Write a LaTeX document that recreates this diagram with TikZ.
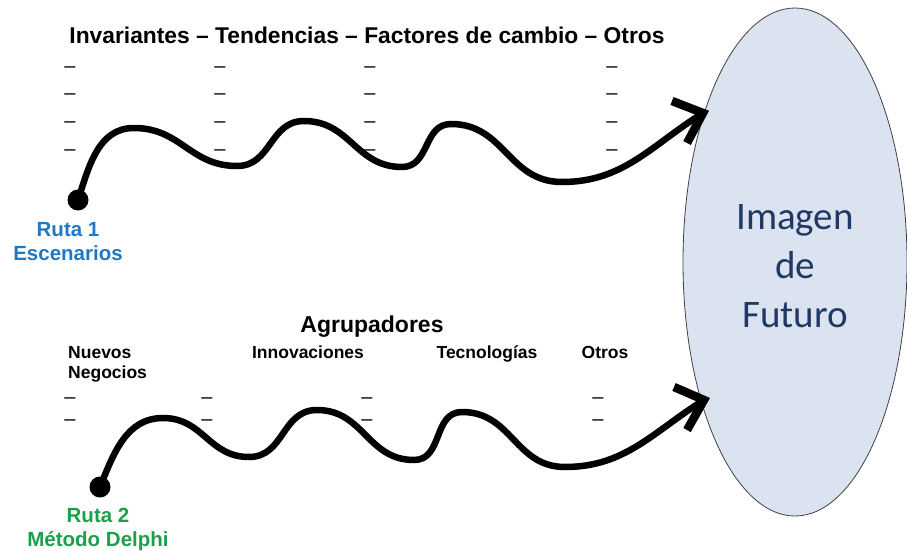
\documentclass[tikz,border=0pt]{standalone}
\usepackage{fontspec}
\setmainfont{Liberation Sans}
\newfontfamily\calfont{Carlito}
\usetikzlibrary{shapes.geometric}
\definecolor{ellfill}{HTML}{DCE3F0}
\definecolor{ellline}{HTML}{404040}
\definecolor{navytxt}{HTML}{1F3864}
\definecolor{rblue}{HTML}{1F78C1}
\definecolor{rgreen}{HTML}{1AA04A}
\begin{document}
\begin{tikzpicture}[x=1pt,y=-1pt,
  wave/.style={line width=6.5pt, line cap=round, line join=round},
  chev/.style={line width=8.5pt, line cap=butt, line join=miter},
  dotnode/.style={circle, fill=black, minimum size=21pt, inner sep=0pt},
  dashtxt/.style={font=\fontsize{20}{20}\selectfont, inner sep=0pt},
  lbl/.style={font=\bfseries\fontsize{17.5}{20}\selectfont, inner sep=0pt, anchor=base},
  rlab/.style={font=\bfseries\fontsize{20.5}{24}\selectfont, align=center, inner sep=0pt}]
\useasboundingbox (0,0) rectangle (907,551);

% ellipse
\node[ellipse, draw=ellline, line width=0.8pt, fill=ellfill,
  minimum width=224pt, minimum height=508pt, inner sep=0pt] (fut) at (795,262) {};
\node[font=\calfont\fontsize{39}{49}\selectfont, text=navytxt, align=center] (futtxt) at (795,266) {Imagen\\de\\Futuro};

% title
\node[font=\bfseries\fontsize{22.8}{24}\selectfont, inner sep=0pt] (title) at (367,35) {Invariantes – Tendencias – Factores de cambio – Otros};

% dashes route 1
\foreach \x/\c in {70/a,220/b,370/c,612/d}{
  \foreach \y/\r in {70/1,97/2,125/3,153/4}{
    \node[dashtxt] (d\c\r) at (\x,\y) {–};
  }
}

% route 1
\node[dotnode] (dot1) at (78,200) {};
\coordinate (tip1) at (703,113);
\draw[wave] (dot1.center) to[out=72,in=180] (134,128)
  to[out=0,in=180,looseness=1.1] (237,166)
  to[out=0,in=180,looseness=1.1] (304,121)
  to[out=0,in=180,looseness=1.1] (402,167)
  to[out=0,in=180,looseness=1.1] (451,124)
  to[out=0,in=180,looseness=1.1] (562,182)
  to[out=0,in=212] (tip1);
\draw[chev] (672,101) -- (tip1) -- (687,143);
\node[rlab, text=rblue] (r1) at (68,242) {Ruta 1\\Escenarios};

% route 2 header
\node[font=\bfseries\fontsize{23}{25}\selectfont, inner sep=0pt] (agr) at (372,327) {Agrupadores};
\node[lbl, anchor=base west, align=left] (nn) at (68,378) {Nuevos\\Negocios};
\node[lbl] (inn) at (308,358) {Innovaciones};
\node[lbl] (tec) at (487,358) {Tecnologías};
\node[lbl] (otr) at (605,358) {Otros};

\foreach \x/\c in {70/a,207/b,367/c,598/d}{
  \foreach \y/\r in {401/1,423/2}{
    \node[dashtxt] (e\c\r) at (\x,\y) {–};
  }
}

% route 2
\node[dotnode] (dot2) at (100,487) {};
\coordinate (tip2) at (704,400);
\draw[wave] (dot2.center) to[out=68,in=180] (163,418)
  to[out=0,in=180,looseness=1.1] (249,457)
  to[out=0,in=180,looseness=1.1] (317,410)
  to[out=0,in=180,looseness=1.1] (414,460)
  to[out=0,in=180,looseness=1.1] (462,412)
  to[out=0,in=180,looseness=1.1] (565,467)
  to[out=0,in=212] (tip2);
\draw[chev] (674,387) -- (tip2) -- (687,430);
\node[rlab, text=rgreen] (r2) at (98,529) {Ruta 2\\Método Delphi};
\end{tikzpicture}
\end{document}
